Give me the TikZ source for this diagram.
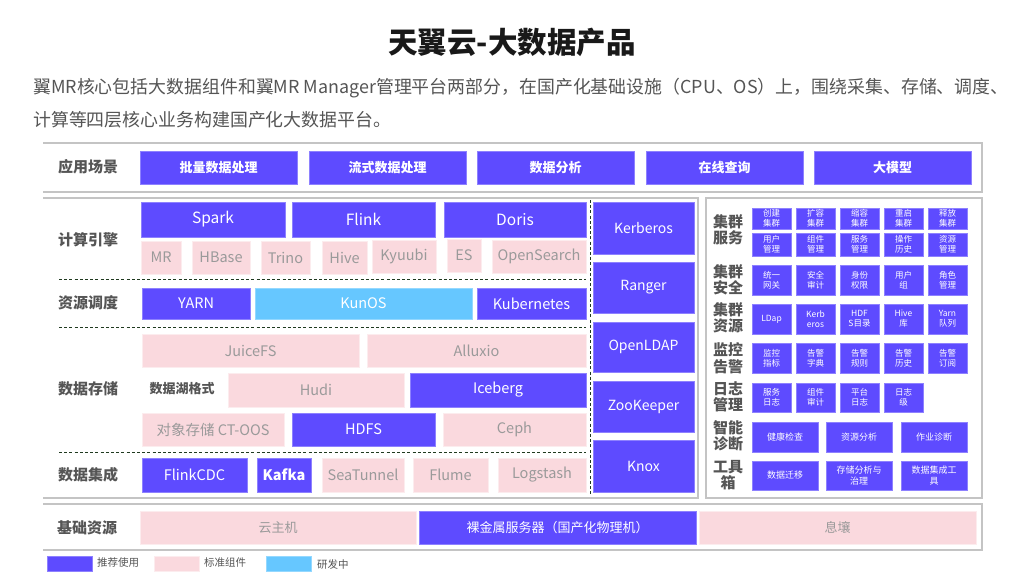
\documentclass[tikz,border=0pt]{standalone}
\usepackage{fontspec}
\setmainfont{Noto Sans CJK SC}
\definecolor{pblue}{HTML}{5E4BFF}
\definecolor{ppink}{HTML}{FAD9DE}
\definecolor{pcyan}{HTML}{66C7FF}
\definecolor{ptext}{HTML}{9A9A9A}
\definecolor{plabel}{HTML}{555555}
\definecolor{pframe}{HTML}{C4C4C4}
\definecolor{pdash}{HTML}{1F3A1F}
\newcommand\fsz[2]{\fontsize{#1}{#2}\selectfont}
% \bx{name}{style}{x1}{y1}{x2}{y2}{text}
\newcommand\bx[7]{\node[#2, minimum width={#5-#3}, minimum height={#6-#4}] (#1) at ({(#3+#5)/2},{(#4+#6)/2}) {#7};}
\tikzset{
  boxbase/.style={inner sep=0pt, outer sep=0pt, align=center, line width=0.6pt},
  bluebox/.style={boxbase, fill=pblue, draw=pblue!70!white, text=white},
  pinkbox/.style={boxbase, fill=ppink, draw=ppink!50!white, text=ptext},
  cyanbox/.style={boxbase, fill=pcyan, draw=pcyan!70!white, text=white},
  lbl/.style={text=plabel, font=\fsz{15}{16.5}\bfseries, align=center, inner sep=0pt},
  sublbl/.style={text=plabel, font=\fsz{13}{15}\bfseries, inner sep=0pt},
  panel/.style={draw=pframe, line width=1.1pt},
  sepline/.style={draw=pdash, line width=0.8pt, dash pattern=on 3pt off 2.2pt},
  tf/.style={font=\fsz{13}{15}\bfseries},
  ef/.style={font=\fsz{15.5}{18}},
  pf/.style={font=\fsz{14.5}{17}},
  sf/.style={font=\fsz{14}{17}},
  mf/.style={font=\fsz{8.5}{10}},
  df/.style={font=\fsz{9}{11}},
  bf/.style={font=\fsz{13}{15}},
  legtext/.style={text=plabel, font=\fsz{10.5}{12}, inner sep=0pt, anchor=west}
}
\begin{document}
\begin{tikzpicture}[x=1pt,y=-1pt]
\useasboundingbox (0,0) rectangle (1024,576);
\fill[white] (0,0) rectangle (1024,576);

% title and intro
\node[font=\fsz{29.5}{33}\bfseries, text=black!90] (title) at (512,42) {天翼云-大数据产品};
\node[anchor=west, inner sep=0pt, font=\fsz{17.9}{20}, text=plabel] (intro1) at (33,88) {翼MR核心包括大数据组件和翼MR Manager管理平台两部分，在国产化基础设施（CPU、OS）上，围绕采集、存储、调度、};
\node[anchor=west, inner sep=0pt, font=\fsz{17.9}{20}, text=plabel] (intro2) at (33,120) {计算等四层核心业务构建国产化大数据平台。};

% panels (open on the left side)
\draw[panel] (43,143) -- (982,143) -- (982,192) -- (43,192);
\draw[panel] (43,198) -- (698,198) -- (698,498) -- (43,498);
\draw[panel] (706,198) rectangle (982,498);
\draw[panel] (43,504) -- (982,504) -- (982,550) -- (43,550);

% application scenarios
\node[lbl] (lapp) at (88,167) {应用场景};
\bx{a1}{bluebox,tf}{140}{151}{297}{184}{批量数据处理}
\bx{a2}{bluebox,tf}{309}{151}{466}{184}{流式数据处理}
\bx{a3}{bluebox,tf}{477}{151}{634}{184}{数据分析}
\bx{a4}{bluebox,tf}{646}{151}{803}{184}{在线查询}
\bx{a5}{bluebox,tf}{814}{151}{971}{184}{大模型}

% compute engines
\node[lbl] (lcomp) at (88,240) {计算引擎};
\bx{spark}{bluebox,ef}{141}{202}{285}{237}{Spark}
\bx{flink}{bluebox,ef}{292}{202}{435}{237}{Flink}
\bx{doris}{bluebox,ef}{444}{202}{586}{237}{Doris}
\bx{mr}{pinkbox,pf}{141}{241}{181}{274}{MR}
\bx{hbase}{pinkbox,pf}{192}{241}{250}{274}{HBase}
\bx{trino}{pinkbox,pf}{261}{241}{310}{274}{Trino}
\bx{hive}{pinkbox,pf}{322}{241}{367}{274}{Hive}
\bx{kyuubi}{pinkbox,pf}{372}{240}{436}{273}{Kyuubi}
\bx{es}{pinkbox,pf}{447}{239}{481}{272}{ES}
\bx{opens}{pinkbox,pf}{492}{240}{586}{273}{OpenSearch}
\coordinate (d1a) at (59,279); \coordinate (d1b) at (586,279);
\draw[sepline] (d1a) -- (d1b);

% scheduling
\node[lbl] (lsched) at (88,303) {资源调度};
\bx{yarn}{bluebox,pf}{142}{288}{250}{319}{YARN}
\bx{kunos}{cyanbox,pf}{255}{288}{472}{319}{KunOS}
\bx{k8s}{bluebox,pf}{477}{288}{586}{319}{Kubernetes}
\coordinate (d2a) at (59,327); \coordinate (d2b) at (586,327);
\draw[sepline] (d2a) -- (d2b);

% storage
\node[lbl] (lstore) at (88,389) {数据存储};
\bx{juice}{pinkbox,pf}{142}{334}{359}{367}{JuiceFS}
\bx{alluxio}{pinkbox,pf}{367}{334}{586}{367}{Alluxio}
\node[sublbl] (llake) at (182,389) {数据湖格式};
\bx{hudi}{pinkbox,pf}{228}{373}{404}{407}{Hudi}
\bx{iceberg}{bluebox,pf}{410}{373}{586}{407}{Iceberg}
\bx{oos}{pinkbox,pf}{142}{413}{284}{446}{对象存储 CT-OOS}
\bx{hdfs}{bluebox,pf}{292}{413}{435}{446}{HDFS}
\bx{ceph}{pinkbox,pf}{443}{413}{586}{446}{Ceph}
\coordinate (d3a) at (59,452); \coordinate (d3b) at (586,452);
\draw[sepline] (d3a) -- (d3b);

% integration
\node[lbl] (lint) at (88,475) {数据集成};
\bx{flinkcdc}{bluebox,pf}{142}{458}{247}{492}{FlinkCDC}
\bx{kafka}{bluebox,pf}{257}{458}{311}{492}{\bfseries Kafka}
\bx{seatun}{pinkbox,pf}{322}{458}{404}{492}{SeaTunnel}
\bx{flume}{pinkbox,pf}{413}{458}{488}{492}{Flume}
\bx{logst}{pinkbox,pf}{498}{458}{586}{492}{Logstash}

% security column
\coordinate (vda) at (590,200); \coordinate (vdb) at (590,496);
\draw[sepline] (vda) -- (vdb);
\bx{kerb}{bluebox,sf}{593}{202}{694}{254}{Kerberos}
\bx{ranger}{bluebox,sf}{593}{262}{694}{313}{Ranger}
\bx{ldap}{bluebox,sf}{593}{322}{694}{372}{OpenLDAP}
\bx{zk}{bluebox,sf}{593}{381}{694}{432}{ZooKeeper}
\bx{knox}{bluebox,sf}{593}{440}{694}{492}{Knox}

% right panel
\node[lbl] (rsvc) at (728,230) {集群\\服务};
\bx{s11}{bluebox,mf}{752}{208}{791}{229}{创建\\集群}
\bx{s12}{bluebox,mf}{796}{208}{835}{229}{扩容\\集群}
\bx{s13}{bluebox,mf}{840}{208}{879}{229}{缩容\\集群}
\bx{s14}{bluebox,mf}{884}{208}{923}{229}{重启\\集群}
\bx{s15}{bluebox,mf}{928}{208}{967}{229}{释放\\集群}
\bx{s21}{bluebox,mf}{752}{233}{791}{256}{用户\\管理}
\bx{s22}{bluebox,mf}{796}{233}{835}{256}{组件\\管理}
\bx{s23}{bluebox,mf}{840}{233}{879}{256}{服务\\管理}
\bx{s24}{bluebox,mf}{884}{233}{923}{256}{操作\\历史}
\bx{s25}{bluebox,mf}{928}{233}{967}{256}{资源\\管理}

\node[lbl] (rsec) at (728,280) {集群\\安全};
\bx{c1}{bluebox,mf}{752}{265}{791}{295}{统一\\网关}
\bx{c2}{bluebox,mf}{796}{265}{835}{295}{安全\\审计}
\bx{c3}{bluebox,mf}{840}{265}{879}{295}{身份\\权限}
\bx{c4}{bluebox,mf}{884}{265}{923}{295}{用户\\组}
\bx{c5}{bluebox,mf}{928}{265}{967}{295}{角色\\管理}

\node[lbl] (rres) at (728,318) {集群\\资源};
\bx{r1}{bluebox,mf}{752}{304}{791}{334}{LDap}
\bx{r2}{bluebox,mf}{796}{304}{835}{334}{Kerb\\eros}
\bx{r3}{bluebox,mf}{840}{304}{879}{334}{HDF\\S目录}
\bx{r4}{bluebox,mf}{884}{304}{923}{334}{Hive\\库}
\bx{r5}{bluebox,mf}{928}{304}{967}{334}{Yarn\\队列}

\node[lbl] (rmon) at (728,358) {监控\\告警};
\bx{m1}{bluebox,mf}{752}{343}{791}{373}{监控\\指标}
\bx{m2}{bluebox,mf}{796}{343}{835}{373}{告警\\字典}
\bx{m3}{bluebox,mf}{840}{343}{879}{373}{告警\\规则}
\bx{m4}{bluebox,mf}{884}{343}{923}{373}{告警\\历史}
\bx{m5}{bluebox,mf}{928}{343}{967}{373}{告警\\订阅}

\node[lbl] (rlog) at (728,397) {日志\\管理};
\bx{g1}{bluebox,mf}{752}{383}{791}{412}{服务\\日志}
\bx{g2}{bluebox,mf}{796}{383}{835}{412}{组件\\审计}
\bx{g3}{bluebox,mf}{840}{383}{879}{412}{平台\\日志}
\bx{g4}{bluebox,mf}{884}{383}{923}{412}{日志\\级}

\node[lbl] (rdiag) at (728,436) {智能\\诊断};
\bx{x1}{bluebox,df}{752}{422}{818}{452}{健康检查}
\bx{x2}{bluebox,df}{826}{422}{892}{452}{资源分析}
\bx{x3}{bluebox,df}{901}{422}{967}{452}{作业诊断}

\node[lbl] (rtool) at (728,475) {工具\\箱};
\bx{t1}{bluebox,df}{752}{461}{818}{490}{数据迁移}
\bx{t2}{bluebox,df}{826}{461}{892}{490}{存储分析与\\治理}
\bx{t3}{bluebox,df}{901}{461}{967}{490}{数据集成工\\具}

% base resources
\node[lbl] (lbase) at (87,528) {基础资源};
\bx{vm}{pinkbox,bf}{140}{511}{416}{544}{云主机}
\bx{bm}{bluebox,bf}{419}{511}{696}{544}{裸金属服务器（国产化物理机）}
\bx{xr}{pinkbox,bf}{699}{511}{976}{544}{息壤}

% legend
\bx{lg1}{bluebox}{47}{556}{92}{571}{}
\node[legtext] (lgt1) at (97,563) {推荐使用};
\bx{lg2}{pinkbox}{154}{556}{199}{571}{}
\node[legtext] (lgt2) at (204,562) {标准组件};
\bx{lg3}{cyanbox}{266}{556}{311}{571}{}
\node[legtext] (lgt3) at (317,564) {研发中};
\end{tikzpicture}
\end{document}
